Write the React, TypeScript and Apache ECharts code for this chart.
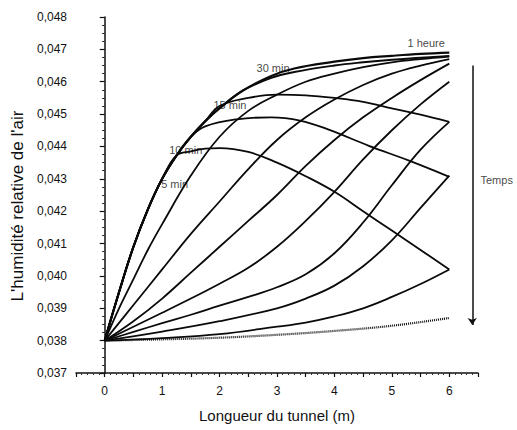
import React, { useEffect, useRef } from "react";
import * as echarts from "echarts";

// Humidity profiles along the tunnel, [length (m), relative humidity]
const envelope1h: number[][] = [
  [0, 0.038], [0.25, 0.0395], [0.5, 0.0409], [0.75, 0.04205], [1, 0.043], [1.25, 0.04372],
  [1.5, 0.0443], [1.75, 0.04478], [2, 0.04518], [2.4, 0.04572], [2.9, 0.04618], [3.3, 0.04641],
  [4, 0.04662], [4.5, 0.04673], [5, 0.0468], [5.5, 0.04686], [6, 0.0469],
];
const tail30min: number[][] = [
  [2.9, 0.04612], [3.3, 0.0463], [4, 0.0465], [4.5, 0.0466], [5, 0.04668], [5.5, 0.04674], [6, 0.0468],
];
const tailA: number[][] = [
  [2, 0.04525], [2.5, 0.0455], [3, 0.0456], [3.5, 0.04558], [4, 0.0455], [4.5, 0.04538],
  [5, 0.04518], [5.5, 0.04498], [6, 0.04476],
];
const tailB: number[][] = [
  [1.75, 0.04462], [2.3, 0.04484], [2.9, 0.0449], [3.4, 0.0448], [3.9, 0.04452],
  [4.6, 0.04402], [5.3, 0.04356], [6, 0.04306],
];
const tailC: number[][] = [
  [1.5, 0.04385], [1.75, 0.04393], [2, 0.04395], [2.5, 0.04383], [3, 0.0435], [3.5, 0.04308],
  [4, 0.0426], [4.5, 0.042], [5, 0.0414], [5.5, 0.0408], [6, 0.0402],
];
const rise1: number[][] = [
  [0, 0.038], [0.25, 0.039], [0.5, 0.0399], [0.75, 0.0408], [1, 0.0416], [1.5, 0.0431],
  [2, 0.0443], [2.5, 0.0451], [3, 0.0456], [3.5, 0.046], [4, 0.04625], [4.5, 0.04645],
  [5, 0.0466], [5.5, 0.0467], [6, 0.04678],
];
const rise2: number[][] = [
  [0, 0.038], [0.5, 0.0391], [1, 0.0402], [1.5, 0.0413], [2, 0.0423], [2.5, 0.0433],
  [3, 0.0442], [3.5, 0.0449], [4, 0.04545], [4.5, 0.0459], [5, 0.04625], [5.5, 0.0465], [6, 0.0467],
];
const rise3: number[][] = [
  [0, 0.038], [0.5, 0.0386], [1, 0.0393], [1.5, 0.0401], [2, 0.0409], [2.5, 0.0417],
  [3, 0.0425], [3.5, 0.0434], [4, 0.0442], [4.5, 0.0449], [5, 0.0455], [5.5, 0.04605], [6, 0.04656],
];
const rise4: number[][] = [
  [0, 0.038], [0.5, 0.03843], [1, 0.03886], [1.5, 0.0393], [2, 0.03976], [2.5, 0.04025],
  [3, 0.0409], [3.5, 0.0417], [4, 0.0426], [4.5, 0.0436], [5, 0.0445], [5.5, 0.0453], [6, 0.046],
];
const rise5: number[][] = [
  [0, 0.038], [0.5, 0.03827], [1, 0.03854], [1.5, 0.0388], [2, 0.03908], [2.5, 0.03935],
  [3, 0.03965], [3.5, 0.04005], [4, 0.0407], [4.5, 0.04165], [5, 0.0428], [5.5, 0.0439], [6, 0.04476],
];
const rise6: number[][] = [
  [0, 0.038], [1, 0.03828], [2, 0.0386], [3, 0.039], [3.5, 0.0393], [4, 0.0397],
  [4.5, 0.0403], [5, 0.0411], [5.5, 0.0421], [6, 0.0431],
];
const rise7: number[][] = [
  [0, 0.038], [1, 0.03808], [2, 0.0382], [3, 0.03843], [3.5, 0.03856], [4, 0.03875],
  [4.5, 0.039], [5, 0.03935], [5.5, 0.03975], [6, 0.0402],
];
const riseDotted: number[][] = [
  [0, 0.038], [1, 0.03804], [2, 0.03809], [3, 0.03818], [4, 0.0383], [5, 0.03846], [6, 0.0387],
];

const curveLabels = ["5 min", "10 min", "15 min", "30 min", "1 heure", "Temps"];
const labelPositions: number[][] = [
  [0.94, 0.04285], [1.08, 0.04389], [1.85, 0.04527], [2.6, 0.04641], [5.23, 0.04719], [6.5, 0.04296],
];
const arrowFrom = [6.4, 0.0465];
const arrowTo = [6.4, 0.03848];

const yAxisTitle = "L'humidité relative de l'air";
const xAxisTitle = "Longueur du tunnel (m)";

const FONT = "Liberation Sans, Arial, sans-serif";

// envelope points up to (and including) a given length, then the branch tail
const branch = (upTo: number, tail: number[][]) => [
  ...envelope1h.filter((p) => p[0] < tail[0][0] && p[0] <= upTo),
  ...tail,
];

export default function App() {
  const ref = useRef<HTMLDivElement>(null);
  useEffect(() => {
    if (!ref.current) return;
    const chart = echarts.init(ref.current, undefined, { renderer: "svg" });
    const solid = (data: number[][], width = 1.8) => ({
      type: "line",
      data,
      smooth: 0.4,
      showSymbol: false,
      silent: true,
      lineStyle: { color: "#0a0a0a", width },
    });
    chart.setOption({
      animation: false,
      backgroundColor: "#fff",
      textStyle: { fontFamily: FONT },
      grid: { left: 76, right: 39, top: 17, bottom: 57, containLabel: false },
      xAxis: {
        type: "value",
        min: -0.5,
        max: 6.5,
        interval: 0.5,
        name: xAxisTitle,
        nameLocation: "middle",
        nameGap: 35,
        nameTextStyle: { fontSize: 15, color: "#111", fontFamily: FONT },
        axisLine: { show: true, lineStyle: { color: "#111", width: 1.5 } },
        axisTick: { show: true, length: 4, lineStyle: { color: "#111", width: 1.2 } },
        minorTick: { show: true, splitNumber: 5, length: 2, lineStyle: { color: "#333" } },
        axisLabel: {
          margin: 12,
          fontSize: 12,
          color: "#111",
          fontFamily: FONT,
          formatter: (v: number) => (Math.abs(v - Math.round(v)) < 1e-6 && v >= 0 && v <= 6 ? String(Math.round(v)) : ""),
        },
        splitLine: { show: false },
      },
      yAxis: {
        type: "value",
        min: 0.037,
        max: 0.048,
        interval: 0.001,
        name: yAxisTitle,
        nameLocation: "middle",
        nameGap: 38,
        nameRotate: 90,
        nameTextStyle: { fontSize: 17, color: "#111", fontFamily: FONT, padding: [0, 22, 0, 0] },
        axisLine: { show: true, lineStyle: { color: "#111", width: 1.5 } },
        axisTick: { show: true, length: 5, lineStyle: { color: "#111", width: 1.2 } },
        minorTick: { show: true, splitNumber: 4, length: 2.5, lineStyle: { color: "#222" } },
        axisLabel: {
          margin: 9,
          fontSize: 12,
          color: "#111",
          fontFamily: FONT,
          formatter: (v: number) => v.toFixed(3).replace(".", ","),
        },
        splitLine: { show: false },
      },
      series: [
        solid(envelope1h, 2.2),
        solid(branch(2.4, tail30min), 1.9),
        solid(branch(1.75, tailA)),
        solid(branch(1.5, tailB)),
        solid(branch(1.25, tailC)),
        solid(rise1),
        solid(rise2),
        solid(rise3),
        solid(rise4),
        solid(rise5),
        solid(rise6),
        solid(rise7),
        {
          type: "line",
          data: riseDotted,
          smooth: 0.4,
          showSymbol: false,
          silent: true,
          lineStyle: { color: "#111", width: 2.2, type: [1, 1] },
        },
        {
          type: "scatter",
          silent: true,
          symbolSize: 1,
          clip: false,
          itemStyle: { color: "rgba(0,0,0,0)" },
          data: curveLabels.map((name, i) => ({ name, value: labelPositions[i] })),
          label: {
            show: true,
            position: "right",
            distance: 2,
            formatter: "{b}",
            fontSize: 11,
            color: "#111",
            fontFamily: FONT,
          },
          markLine: {
            silent: true,
            symbol: ["none", "arrow"],
            symbolSize: 7,
            label: { show: false },
            itemStyle: { color: "#111" },
            lineStyle: { color: "#111", width: 1.5, type: "solid" },
            data: [[{ coord: arrowFrom }, { coord: arrowTo }]],
          },
        },
      ],
    });
    return () => chart.dispose();
  }, []);
  return (
    <div
      ref={ref}
      style={{ position: "absolute", left: 0, top: 0, width: 517, height: 430, background: "#fff" }}
    />
  );
}
